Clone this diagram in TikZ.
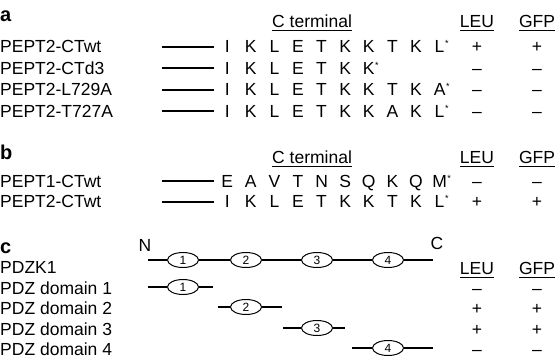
\documentclass[tikz,border=0pt]{standalone}
\usepackage{fontspec}
\setmainfont{Liberation Sans}
\usetikzlibrary{shapes.geometric}

% one residue of a sequence, on a fixed pitch
\newcommand\resid[1]{\makebox[23.6pt]{#1}}
% last residue, followed by the stop mark
\newcommand\stopres[1]{\makebox[23.6pt]{#1\rlap{\kern0.6pt\raisebox{0.62ex}{\fontsize{9}{9}\selectfont *}}}}
% underlined heading
\newcommand\ulbox[1]{\leavevmode\vtop{\hbox{#1}\kern2.4pt\hrule height 0.9pt}}

\tikzset{
  basefont/.style={font=\fontsize{17.5}{20}\selectfont},
  lbl/.style={basefont, anchor=base west, inner sep=0pt},
  ctr/.style={basefont, anchor=base, inner sep=0pt},
  panel/.style={font=\fontsize{20}{22}\selectfont\bfseries, anchor=base west, inner sep=0pt},
  seqn/.style={basefont, anchor=base west, inner sep=0pt},
  tail/.style={line width=1.3pt},
  dom/.style={ellipse, draw, line width=1pt, minimum width=31pt, minimum height=15pt,
              inner sep=0pt, font=\fontsize{12}{13}\selectfont},
}

\begin{document}
\begin{tikzpicture}[x=1pt,y=-1pt]
\useasboundingbox (0,0) rectangle (556,359);

% ---------------- panel a ----------------
\node[panel] (pa) at (0,21) {a};
\node[lbl] (cta) at (272,27) {\ulbox{C terminal}};
\node[ctr] (leua) at (477,27) {\ulbox{LEU}};
\node[ctr] (gfpa) at (537,27) {\ulbox{GFP}};

\node[lbl] (a1) at (0,52.5) {PEPT2-CTwt};
\node[seqn] (a1s) at (215.2,52.5) {\resid{I}\resid{K}\resid{L}\resid{E}\resid{T}\resid{K}\resid{K}\resid{T}\resid{K}\stopres{L}};
\coordinate (a1t) at (162,47);
\draw[tail] (a1t) -- ([xshift=-1pt]a1s.west |- a1t);
\node[ctr] (a1l) at (477,52.5) {+};
\node[ctr] (a1g) at (537,52.5) {+};

\node[lbl] (a2) at (0,74) {PEPT2-CTd3};
\node[seqn] (a2s) at (215.2,74) {\resid{I}\resid{K}\resid{L}\resid{E}\resid{T}\resid{K}\stopres{K}};
\coordinate (a2t) at (162,68);
\draw[tail] (a2t) -- ([xshift=-1pt]a2s.west |- a2t);
\node[ctr] (a2l) at (477,74) {–};
\node[ctr] (a2g) at (537,74) {–};

\node[lbl] (a3) at (0,95.5) {PEPT2-L729A};
\node[seqn] (a3s) at (215.2,95.5) {\resid{I}\resid{K}\resid{L}\resid{E}\resid{T}\resid{K}\resid{K}\resid{T}\resid{K}\stopres{A}};
\coordinate (a3t) at (162,90);
\draw[tail] (a3t) -- ([xshift=-1pt]a3s.west |- a3t);
\node[ctr] (a3l) at (477,95.5) {–};
\node[ctr] (a3g) at (537,95.5) {–};

\node[lbl] (a4) at (0,117) {PEPT2-T727A};
\node[seqn] (a4s) at (215.2,117) {\resid{I}\resid{K}\resid{L}\resid{E}\resid{T}\resid{K}\resid{K}\resid{A}\resid{K}\stopres{L}};
\coordinate (a4t) at (162,111);
\draw[tail] (a4t) -- ([xshift=-1pt]a4s.west |- a4t);
\node[ctr] (a4l) at (477,117) {–};
\node[ctr] (a4g) at (537,117) {–};

% ---------------- panel b ----------------
\node[panel] (pb) at (0,159) {b};
\node[lbl] (ctb) at (272,163) {\ulbox{C terminal}};
\node[ctr] (leub) at (477,163) {\ulbox{LEU}};
\node[ctr] (gfpb) at (537,163) {\ulbox{GFP}};

\node[lbl] (b1) at (0,187) {PEPT1-CTwt};
\node[seqn] (b1s) at (215.2,187) {\resid{E}\resid{A}\resid{V}\resid{T}\resid{N}\resid{S}\resid{Q}\resid{K}\resid{Q}\stopres{M}};
\coordinate (b1t) at (162,181);
\draw[tail] (b1t) -- ([xshift=-1pt]b1s.west |- b1t);
\node[ctr] (b1l) at (477,187) {–};
\node[ctr] (b1g) at (537,187) {–};

\node[lbl] (b2) at (0,207.5) {PEPT2-CTwt};
\node[seqn] (b2s) at (215.2,207.5) {\resid{I}\resid{K}\resid{L}\resid{E}\resid{T}\resid{K}\resid{K}\resid{T}\resid{K}\stopres{L}};
\coordinate (b2t) at (162,202);
\draw[tail] (b2t) -- ([xshift=-1pt]b2s.west |- b2t);
\node[ctr] (b2l) at (477,207.5) {+};
\node[ctr] (b2g) at (537,207.5) {+};

% ---------------- panel c ----------------
\node[panel] (pc) at (0,253) {c};
\node[ctr] (nend) at (145,251) {N};
\node[ctr] (cend) at (437,249) {C};

\node[lbl] (k1) at (0,273) {PDZK1};
\coordinate (kL) at (148,260);
\coordinate (kR) at (433,260);
\node[dom] (k1d1) at (183,260) {1};
\node[dom] (k1d2) at (246,260) {2};
\node[dom] (k1d3) at (317,260) {3};
\node[dom] (k1d4) at (388,260) {4};
\draw[tail] (kL) -- (k1d1) -- (k1d2) -- (k1d3) -- (k1d4) -- (kR);

\node[ctr] (leuc) at (477,274) {\ulbox{LEU}};
\node[ctr] (gfpc) at (537,274) {\ulbox{GFP}};

\node[lbl] (c1) at (0,294) {PDZ domain 1};
\coordinate (c1L) at (148,287);
\coordinate (c1R) at (213,287);
\node[dom] (c1d) at (183,287) {1};
\draw[tail] (c1L) -- (c1d) -- (c1R);
\node[ctr] (c1l) at (477,294) {–};
\node[ctr] (c1g) at (537,294) {–};

\node[lbl] (c2) at (0,314.5) {PDZ domain 2};
\coordinate (c2L) at (218,307);
\coordinate (c2R) at (282,307);
\node[dom] (c2d) at (246,307) {2};
\draw[tail] (c2L) -- (c2d) -- (c2R);
\node[ctr] (c2l) at (477,314.5) {+};
\node[ctr] (c2g) at (537,314.5) {+};

\node[lbl] (c3) at (0,335) {PDZ domain 3};
\coordinate (c3L) at (283,328);
\coordinate (c3R) at (345,328);
\node[dom] (c3d) at (317,328) {3};
\draw[tail] (c3L) -- (c3d) -- (c3R);
\node[ctr] (c3l) at (477,335) {+};
\node[ctr] (c3g) at (537,335) {+};

\node[lbl] (c4) at (0,355.5) {PDZ domain 4};
\coordinate (c4L) at (352,348);
\coordinate (c4R) at (433,348);
\node[dom] (c4d) at (388,348) {4};
\draw[tail] (c4L) -- (c4d) -- (c4R);
\node[ctr] (c4l) at (477,355.5) {–};
\node[ctr] (c4g) at (537,355.5) {–};
\end{tikzpicture}
\end{document}
